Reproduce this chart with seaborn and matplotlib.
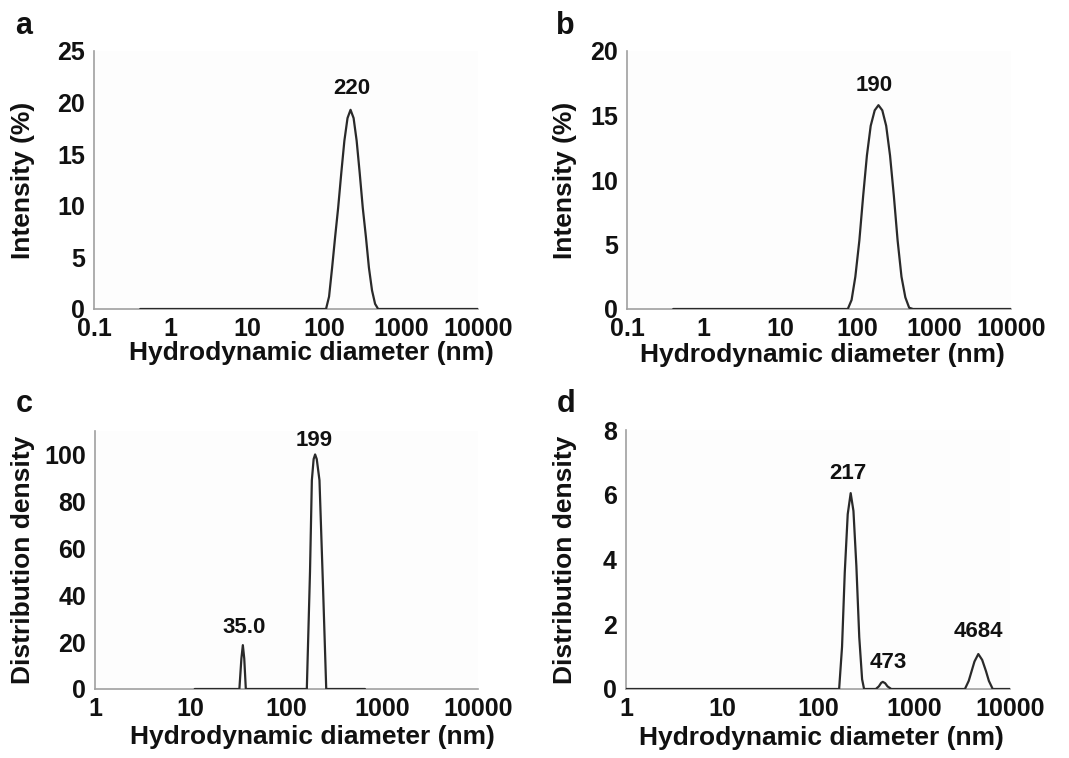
import numpy as np
import pandas as pd
import matplotlib
matplotlib.use("Agg")
import matplotlib.pyplot as plt
import seaborn as sns

# ---------------- data ----------------
# Panel a: intensity distribution
a_diam = [0.4, 105, 115, 126, 138, 151, 166, 182, 200, 219, 240, 263, 288, 316, 347, 380, 417, 457, 501, 10000]
a_int = [0, 0, 1.2, 4.0, 7.0, 9.8, 13.2, 16.3, 18.5, 19.3, 18.5, 16.3, 13.2, 9.8, 7.0, 4.0, 1.8, 0.5, 0, 0]

# Panel b: intensity distribution
b_diam = [0.4, 75, 84, 94, 106, 119, 133, 149, 168, 188, 211, 237, 266, 298, 334, 375, 421, 472, 530, 10000]
b_int = [0, 0, 0.7, 2.5, 5.3, 8.8, 11.9, 14.2, 15.4, 15.8, 15.4, 14.2, 11.9, 8.8, 5.3, 2.5, 0.9, 0.1, 0, 0]

# Panel c: distribution density
c_diam = [11, 32.2, 33.8, 35, 36.2, 37.6, 163, 176, 184, 192, 199, 207, 221, 240, 260, 660]
c_dens = [0, 0, 13, 18.7, 13, 0, 0, 50, 89, 98, 100, 98, 89, 45, 0, 0]

# Panel d: distribution density
d_diam = [1, 166, 178, 190, 204, 219, 234, 251, 269, 288, 302,
          400, 430, 455, 473, 500, 530, 580,
          3390, 3715, 3981, 4266, 4677, 5129, 5623, 6026, 6607, 10000]
d_dens = [0, 0, 1.3, 3.6, 5.4, 6.05, 5.5, 3.8, 1.6, 0.3, 0,
          0, 0.08, 0.19, 0.22, 0.18, 0.08, 0,
          0, 0.25, 0.55, 0.85, 1.08, 0.9, 0.55, 0.25, 0, 0]

# peak annotations: (x, y, text)
a_peaks = [(219, 19.3, "220")]
b_peaks = [(188, 15.8, "190")]
c_peaks = [(35, 18.7, "35.0"), (199, 100, "199")]
d_peaks = [(219, 6.05, "217"), (473, 0.22, "473"), (4677, 1.08, "4684")]

xlabel = "Hydrodynamic diameter (nm)"

# ---------------- style ----------------
sns.set_theme(style="white")
plt.rcParams['font.family'] = ['Liberation Sans', 'DejaVu Sans']
plt.rcParams['font.weight'] = 'bold'

fig = plt.figure(figsize=(10.69, 7.58), dpi=100)
W, H = 1069, 758

def make_ax(left, right, top, bottom):
    return fig.add_axes([left / W, (H - bottom) / H, (right - left) / W, (bottom - top) / H])

LINE = "#2a2a2a"
GRAY = "#a0a0a0"
TXT = "#111111"

panels = [
    dict(box=(94, 478, 51, 309), x=a_diam, y=a_int, xlim=(0.1, 10000), ylim=(0, 25),
         yticks=[0, 5, 10, 15, 20, 25], xticks=[0.1, 1, 10, 100, 1000, 10000],
         xtl=["0.1", "1", "10", "100", "1000", "10000"], ylabel="Intensity (%)",
         peaks=a_peaks, offs=[(1, 15)], letter="a", lpos=(24, 26),
         ylab_x=-0.185, xlab=(0.567, -0.171)),
    dict(box=(627, 1011, 51, 309), x=b_diam, y=b_int, xlim=(0.1, 10000), ylim=(0, 20),
         yticks=[0, 5, 10, 15, 20], xticks=[0.1, 1, 10, 100, 1000, 10000],
         xtl=["0.1", "1", "10", "100", "1000", "10000"], ylabel="Intensity (%)",
         peaks=b_peaks, offs=[(-3, 14)], letter="b", lpos=(565, 26),
         ylab_x=-0.161, xlab=(0.51, -0.178)),
    dict(box=(95, 478, 431, 689), x=c_diam, y=c_dens, xlim=(1, 10000), ylim=(0, 110),
         yticks=[0, 20, 40, 60, 80, 100], xticks=[1, 10, 100, 1000, 10000],
         xtl=["1", "10", "100", "1000", "10000"], ylabel="Distribution density",
         peaks=c_peaks, offs=[(1, 13), (-1, 10)], letter="c", lpos=(24, 404),
         ylab_x=-0.188, xlab=(0.567, -0.186)),
    dict(box=(626, 1010, 430, 689), x=d_diam, y=d_dens, xlim=(1, 10000), ylim=(0, 8),
         yticks=[0, 2, 4, 6, 8], xticks=[1, 10, 100, 1000, 10000],
         xtl=["1", "10", "100", "1000", "10000"], ylabel="Distribution density",
         peaks=d_peaks, offs=[(-2, 14), (4, 14), (0, 16)], letter="d", lpos=(566, 404),
         ylab_x=-0.159, xlab=(0.51, -0.19)),
]

for p in panels:
    ax = make_ax(*p["box"])
    df = pd.DataFrame({"d": p["x"], "v": p["y"]})
    sns.lineplot(data=df, x="d", y="v", ax=ax, color=LINE, linewidth=1.6,
                 estimator=None, sort=False, zorder=3)
    ax.set_xscale("log")
    ax.set_xlim(*p["xlim"])
    ax.set_ylim(*p["ylim"])
    ax.set_xticks(p["xticks"])
    ax.set_xticklabels(p["xtl"])
    ax.xaxis.set_minor_locator(matplotlib.ticker.NullLocator())
    ax.set_yticks(p["yticks"])
    ax.set_yticklabels([str(t) for t in p["yticks"]])
    for s in ["top", "right"]:
        ax.spines[s].set_visible(False)
    for s in ["left", "bottom"]:
        ax.spines[s].set_color(GRAY)
        ax.spines[s].set_linewidth(1.2)
    ax.tick_params(axis="both", which="major", direction="out", length=4, width=1.0,
                   color=GRAY, labelsize=18, pad=1.5)
    ax.tick_params(axis="y", pad=2.5)
    for lab in ax.get_xticklabels() + ax.get_yticklabels():
        lab.set_fontweight("bold")
        lab.set_color(TXT)
    ax.set_xlabel(xlabel, fontsize=19, fontweight="bold", color=TXT, va="center")
    ax.xaxis.set_label_coords(*p["xlab"])
    ax.set_ylabel(p["ylabel"], fontsize=19, fontweight="bold", color=TXT, va="center")
    ax.yaxis.set_label_coords(p["ylab_x"], 0.5)
    ax.set_facecolor("#fdfdfd")
    for (px, py, t), off in zip(p["peaks"], p["offs"]):
        ax.annotate(t, xy=(px, py), xytext=off, textcoords="offset points",
                    ha="center", va="center", fontsize=16, fontweight="bold",
                    color=TXT)
    fig.text(p["lpos"][0] / W, 1 - p["lpos"][1] / H, p["letter"], fontsize=22,
             fontweight="bold", ha="center", va="center", color=TXT)

fig.savefig("out.png", dpi=100, facecolor="white")
